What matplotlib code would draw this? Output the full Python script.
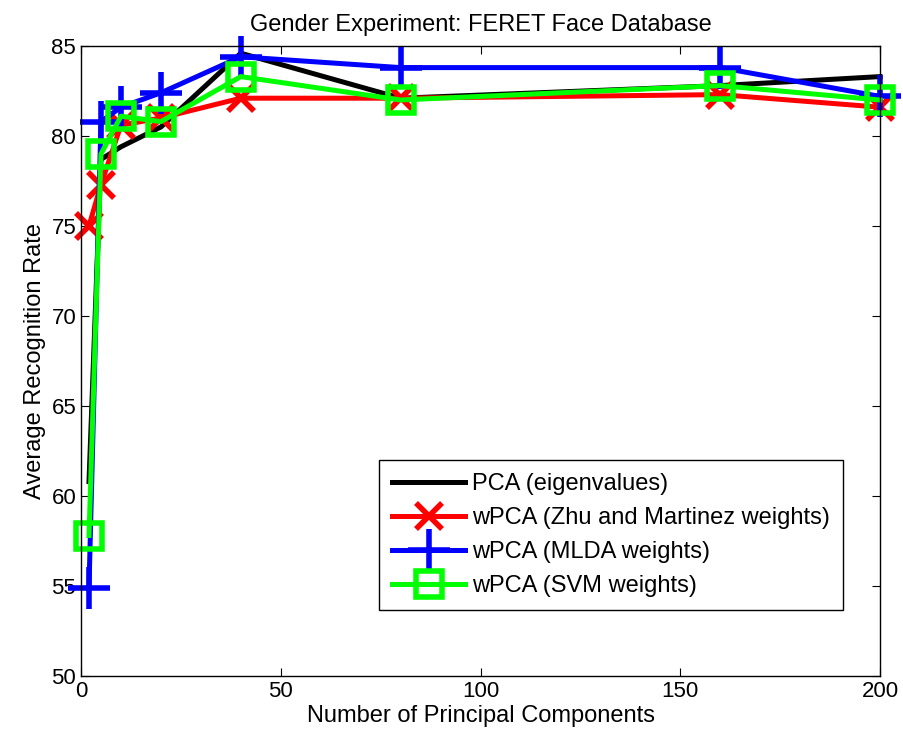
import matplotlib
matplotlib.use("Agg")
import matplotlib.pyplot as plt

plt.rcParams['font.family'] = ['Liberation Sans', 'DejaVu Sans']

# number of principal components
n_comp = [2, 5, 10, 20, 40, 80, 160, 200]

# average recognition rates
pca_eig = [60.8, 78.7, 79.4, 80.5, 84.6, 82.1, 82.8, 83.3]
wpca_zhu = [75.0, 77.3, 80.6, 81.0, 82.1, 82.1, 82.3, 81.6]
wpca_mlda = [54.9, 80.8, 81.6, 82.4, 84.4, 83.8, 83.8, 82.2]
wpca_svm = [57.8, 79.0, 81.1, 80.8, 83.3, 82.0, 82.8, 82.0]

labels = ["PCA (eigenvalues)", "wPCA (Zhu and Martinez weights)",
          "wPCA (MLDA weights)", "wPCA (SVM weights)"]

fig = plt.figure(figsize=(9.04, 7.42), dpi=100)
ax = fig.add_axes([0.0896, 0.089, 0.9735 - 0.0896, 0.938 - 0.089])

lw = 3.6
ax.plot(n_comp, pca_eig, color='black', lw=lw, label=labels[0], clip_on=False)
ax.plot(n_comp, wpca_zhu, color='red', lw=lw, marker='x', ms=19, mew=4,
        label=labels[1], clip_on=False)
ax.plot(n_comp, wpca_mlda, color='blue', lw=lw, marker='+', ms=30, mew=4,
        label=labels[2], clip_on=False)
ax.plot(n_comp, wpca_svm, color='#00ff00', lw=lw, marker='s', ms=19, mew=4,
        mfc='none', label=labels[3], clip_on=False)

ax.set_xlim(0, 200)
ax.set_ylim(50, 85)
ax.set_xticks(range(0, 201, 50))
ax.set_yticks(range(50, 86, 5))
ax.tick_params(direction='in', top=True, right=True, labelsize=16, length=6)
for sp in ax.spines.values():
    sp.set_linewidth(1.0)

ax.set_xlabel("Number of Principal Components", fontsize=17, labelpad=2)
ax.set_ylabel("Average Recognition Rate", fontsize=17, labelpad=4)
ax.set_title("Gender Experiment: FERET Face Database", fontsize=17, pad=11)

leg = ax.legend(loc='lower right', bbox_to_anchor=(0.954, 0.105),
                borderaxespad=0, fontsize=17,
                fancybox=False, edgecolor='black', framealpha=1,
                handlelength=3.1, handletextpad=0.3, borderpad=0.55,
                labelspacing=0.5)
leg.get_frame().set_linewidth(1.0)
for h, ms in zip(leg.legend_handles, [0, 19, 30, 19]):
    h.set_markersize(ms)

fig.savefig("out.png", dpi=100)
